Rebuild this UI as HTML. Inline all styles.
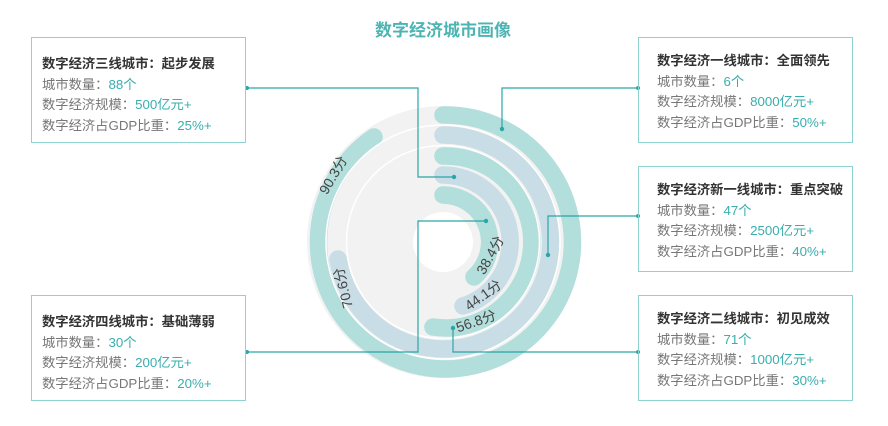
<!DOCTYPE html>
<html><head><meta charset="utf-8"><style>
html,body{margin:0;padding:0;background:#fff;}
body{width:888px;height:426px;position:relative;overflow:hidden;font-family:"Liberation Sans","Noto Sans CJK SC",sans-serif;}
.box{position:absolute;width:215px;height:106px;border:1.5px solid #8fd3d1;box-sizing:border-box;padding:13px 0 0 18px;font-size:13.3px;line-height:20.5px;color:#777;}
.box.l{padding:16px 0 0 10px;}
.box b{color:#333;font-weight:bold;}
.box span{color:#3aaeae;}
</style></head><body>
<svg width="888" height="426" style="position:absolute;left:0;top:0" xmlns="http://www.w3.org/2000/svg">
<text x="443" y="36" text-anchor="middle" font-size="17" font-weight="bold" fill="#4cb5b3" font-family="Liberation Sans, Noto Sans CJK SC, sans-serif">数字经济城市画像</text>
<circle cx="443" cy="242" r="136" fill="#f2f2f2"/>
<circle cx="443" cy="242" r="30" fill="#fff"/>
<g fill="none" stroke-linecap="round" stroke-width="17.5">
<path d="M443 115 A127 127 0 1 1 374 137" stroke="#b2dedb"/>
<path d="M443 135 A107 107 0 1 1 338 259" stroke="#c9dde6"/>
<path d="M443 156 A86 86 0 1 1 433 327" stroke="#b2dedb"/>
<path d="M443 175 A67 67 0 0 1 463 306" stroke="#c9dde6"/>
<path d="M443 195 A47 47 0 0 1 474 277" stroke="#b2dedb"/>
</g>
<g fill="none" stroke="#fff" stroke-width="1.5">
<circle cx="443" cy="242" r="117"/>
<circle cx="443" cy="242" r="96.5"/>
</g>
<g font-size="14" fill="#444" text-anchor="middle" font-family="Liberation Sans, Noto Sans CJK SC, sans-serif">
<text transform="translate(333,175) rotate(-60)" dy="5">90.3分</text>
<text transform="translate(343,288) rotate(-104)" dy="5">70.6分</text>
<text transform="translate(490,255) rotate(-61)" dy="5">38.4分</text>
<text transform="translate(483,295) rotate(-36)" dy="5">44.1分</text>
<text transform="translate(476,321) rotate(-19)" dy="5">56.8分</text>
</g>
<g fill="none" stroke="#2aa6a6" stroke-width="1.2">
<polyline points="247,88 418,88 418,177 454,177"/>
<polyline points="638,88 502,88 502,129"/>
<polyline points="638,216 548,216 548,255"/>
<polyline points="638,352 453,352 453,328"/>
<polyline points="247,352 418,352 418,221 486,221"/>
</g>
<g fill="#2aa6a6">
<circle cx="247" cy="88" r="2"/><circle cx="454" cy="177" r="2.2"/>
<circle cx="638" cy="88" r="2"/><circle cx="502" cy="129" r="2.2"/>
<circle cx="638" cy="216" r="2"/><circle cx="548" cy="255" r="2.2"/>
<circle cx="638" cy="352" r="2"/><circle cx="453" cy="328" r="2.2"/>
<circle cx="247" cy="352" r="2"/><circle cx="486" cy="221" r="2.2"/>
</g>
</svg>
<div class="box l" style="left:31px;top:37px;"><b>数字经济三线城市：起步发展</b><br>城市数量：<span>88个</span><br>数字经济规模：<span>500亿元+</span><br>数字经济占GDP比重：<span>25%+</span></div>
<div class="box" style="left:638px;top:37px;"><b>数字经济一线城市：全面领先</b><br>城市数量：<span>6个</span><br>数字经济规模：<span>8000亿元+</span><br>数字经济占GDP比重：<span>50%+</span></div>
<div class="box" style="left:638px;top:166px;"><b>数字经济新一线城市：重点突破</b><br>城市数量：<span>47个</span><br>数字经济规模：<span>2500亿元+</span><br>数字经济占GDP比重：<span>40%+</span></div>
<div class="box" style="left:638px;top:295px;"><b>数字经济二线城市：初见成效</b><br>城市数量：<span>71个</span><br>数字经济规模：<span>1000亿元+</span><br>数字经济占GDP比重：<span>30%+</span></div>
<div class="box l" style="left:31px;top:295px;"><b>数字经济四线城市：基础薄弱</b><br>城市数量：<span>30个</span><br>数字经济规模：<span>200亿元+</span><br>数字经济占GDP比重：<span>20%+</span></div>
</body></html>
